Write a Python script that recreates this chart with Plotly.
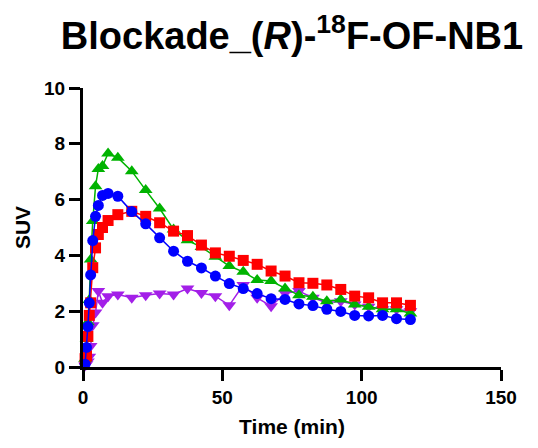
import plotly.graph_objects as go

time_min = [0.75, 1.25, 1.75, 2.25, 2.75, 3.5, 4.5, 5.5, 7, 9,
            12.5, 17.5, 22.5, 27.5, 32.5, 37.5, 42.5, 47.5, 52.5, 57.5, 62.5,
            67.5, 72.5, 77.5, 82.5, 87.5, 92.5, 97.5, 102.5, 107.5, 112.5, 117.5]

suv_purple = [0.05, 0.1, 0.2, 0.37, 0.75, 1.5, 1.95, 2.72, 2.30, 2.54,
              2.60, 2.48, 2.57, 2.63, 2.60, 2.81, 2.65, 2.54, 2.21, 2.94, 2.48,
              2.18, 2.64, 2.72, 2.48, 2.30, 2.36, 2.24, 2.16, 2.07, 2.07, 2.00]

suv_green = [0.3, 1.0, 1.6, 2.4, 3.85, 5.23, 6.48, 7.10, 7.20, 7.65,
             7.50, 7.02, 6.34, 5.68, 4.93, 4.54, 4.30, 3.95, 3.62, 3.41, 3.12,
             3.08, 2.81, 2.57, 2.52, 2.36, 2.42, 2.24, 2.16, 2.07, 2.07, 1.92]

suv_red = [0.3, 0.4, 1.1, 1.85, 2.3, 3.56, 4.27, 4.75, 5.00, 5.25,
           5.46, 5.58, 5.40, 5.17, 4.87, 4.71, 4.37, 4.09, 3.97, 3.82, 3.68,
           3.44, 3.26, 3.02, 3.00, 2.94, 2.78, 2.54, 2.48, 2.30, 2.30, 2.21]

suv_blue = [0.1, 0.70, 1.45, 2.30, 3.30, 4.53, 5.40, 5.79, 6.15, 6.22,
            6.12, 5.57, 5.13, 4.63, 4.15, 3.79, 3.55, 3.26, 2.99, 2.81, 2.63,
            2.45, 2.42, 2.26, 2.20, 2.07, 1.99, 1.85, 1.83, 1.85, 1.73, 1.70]

x_ticks = [0, 50, 100, 150]
y_ticks = [0, 2, 4, 6, 8, 10]

series = [
    ("purple", suv_purple, "#A31FE8", "triangle-down", 12),
    ("green", suv_green, "#00B300", "triangle-up", 12),
    ("red", suv_red, "#FF0000", "square", 11),
    ("blue", suv_blue, "#0000FF", "circle", 11),
]

fig = go.Figure()
for name, ys, color, sym, sz in series:
    fig.add_trace(go.Scatter(
        x=time_min, y=ys, name=name, mode="lines+markers",
        line=dict(color=color, width=1.5),
        marker=dict(symbol=sym, size=sz, color=color, line=dict(width=0)),
        cliponaxis=False, showlegend=False,
    ))

font_family = "Liberation Sans, Arial, sans-serif"
fig.update_layout(
    width=538, height=448,
    margin=dict(l=83, r=37, t=88, b=81),
    paper_bgcolor="white", plot_bgcolor="white",
    font=dict(family=font_family, color="black"),
    title=dict(text="<b>Blockade_(<i>R</i>)-<sup>18</sup>F-OF-NB1</b>",
               x=292 / 538, xanchor="center", y=1 - 36 / 448, yanchor="middle",
               font=dict(size=38, family=font_family, color="black")),
)
fig.update_xaxes(
    range=[0, 150], tickvals=x_ticks, ticktext=[f"<b>{v}</b>" for v in x_ticks],
    showgrid=False, zeroline=False, showline=True, linecolor="black", linewidth=3,
    ticks="outside", ticklen=11, tickwidth=3, tickcolor="black",
    tickfont=dict(size=19, family=font_family, color="black"),
    title=dict(text="<b>Time (min)</b>", font=dict(size=21, family=font_family), standoff=13),
)
fig.update_yaxes(
    range=[0, 10], tickvals=y_ticks, ticktext=[f"<b>{v}</b>" for v in y_ticks],
    showgrid=False, zeroline=False, showline=True, linecolor="black", linewidth=3,
    ticks="outside", ticklen=11, tickwidth=3, tickcolor="black",
    tickfont=dict(size=19, family=font_family, color="black"),
    title=dict(text="<b>SUV</b>", font=dict(size=21, family=font_family), standoff=8),
)

fig.write_html("out.html")
